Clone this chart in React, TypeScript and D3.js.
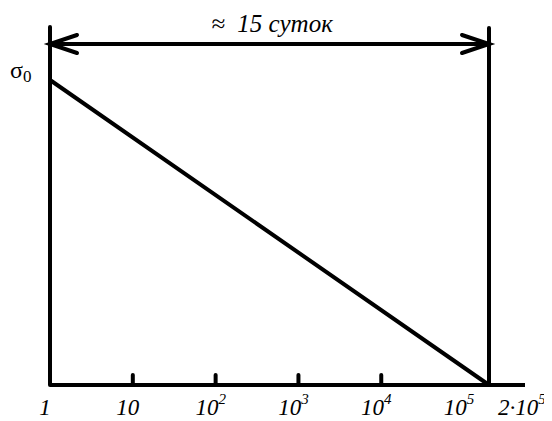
import React from 'react'
import * as d3 from 'd3'

// time axis (log), ticks and labels
const tickValues = [10, 100, 1000, 10000]
const labelValues = [1, 10, 100, 1000, 10000, 100000, 200000]
const labelBase = ['1', '10', '10', '10', '10', '10', '2·10']
const labelExp = ['', '', '2', '3', '4', '5', '5']

// stress falls linearly in log time from sigma0 to zero
const lineTimes = [1, 200000]
const lineStress = [1, 0]

const spanLabel = '≈  15 суток'

const W = 552
const H = 421
const SERIF = '"Liberation Serif", "Times New Roman", serif'

const x = d3.scaleLog().domain([1, 200000]).range([50, 489])
const y = d3.scaleLinear().domain([0, 1]).range([385, 80])

export default function App() {
  const yTop = 27
  const yArrow = 44
  const xl = x(1), xr = x(200000)
  const linePath = d3.line()(lineTimes.map((t, i) => [x(t), y(lineStress[i])] as [number, number])) || ''

  return (
    <svg width={W} height={H} style={{ display: 'block', marginTop: -8, marginLeft: -8, background: '#fff' }}>
      <g stroke="#000" strokeWidth={4} fill="none" strokeLinecap="round">
        <line x1={xl} x2={xl} y1={yTop} y2={y(0)} />
        <line x1={xr} x2={xr} y1={yTop + 1} y2={y(0)} />
        <line x1={xl} x2={525} y1={y(0)} y2={y(0)} strokeLinecap="butt" />
        {tickValues.map(d => (
          <line key={d} x1={x(d)} x2={x(d)} y1={y(0) - 10} y2={y(0)} />
        ))}
        <path d={linePath} />
        <line x1={xl} x2={xr} y1={yArrow} y2={yArrow} />
        <path d={`M${xl + 27},${yArrow - 9}L${xl},${yArrow}L${xl + 27},${yArrow + 9}`} />
        <path d={`M${xr - 27},${yArrow - 9}L${xr},${yArrow}L${xr - 27},${yArrow + 9}`} />
      </g>
      <text x={272} y={32} textAnchor="middle" fill="#000"
        style={{ fontFamily: SERIF, fontStyle: 'italic', fontSize: 25, whiteSpace: 'pre' }}>
        {spanLabel}
      </text>
      <text x={10} y={78} fill="#000" style={{ fontFamily: SERIF, fontSize: 24 }}>
        <tspan>σ</tspan>
        <tspan dy={4} style={{ fontSize: 17 }}>0</tspan>
      </text>
      <g fill="#000" style={{ fontFamily: SERIF, fontStyle: 'italic', fontSize: 23 }}>
        {labelValues.map((v, i) => {
          const last = i === labelValues.length - 1
          return (
            <text key={v} x={last ? x(v) + 9 : x(v) - 5} y={415} textAnchor={last ? 'start' : 'middle'}>
              <tspan>{labelBase[i]}</tspan>
              {labelExp[i] ? <tspan dy={-11} style={{ fontSize: 15 }}>{labelExp[i]}</tspan> : null}
            </text>
          )
        })}
      </g>
    </svg>
  )
}
